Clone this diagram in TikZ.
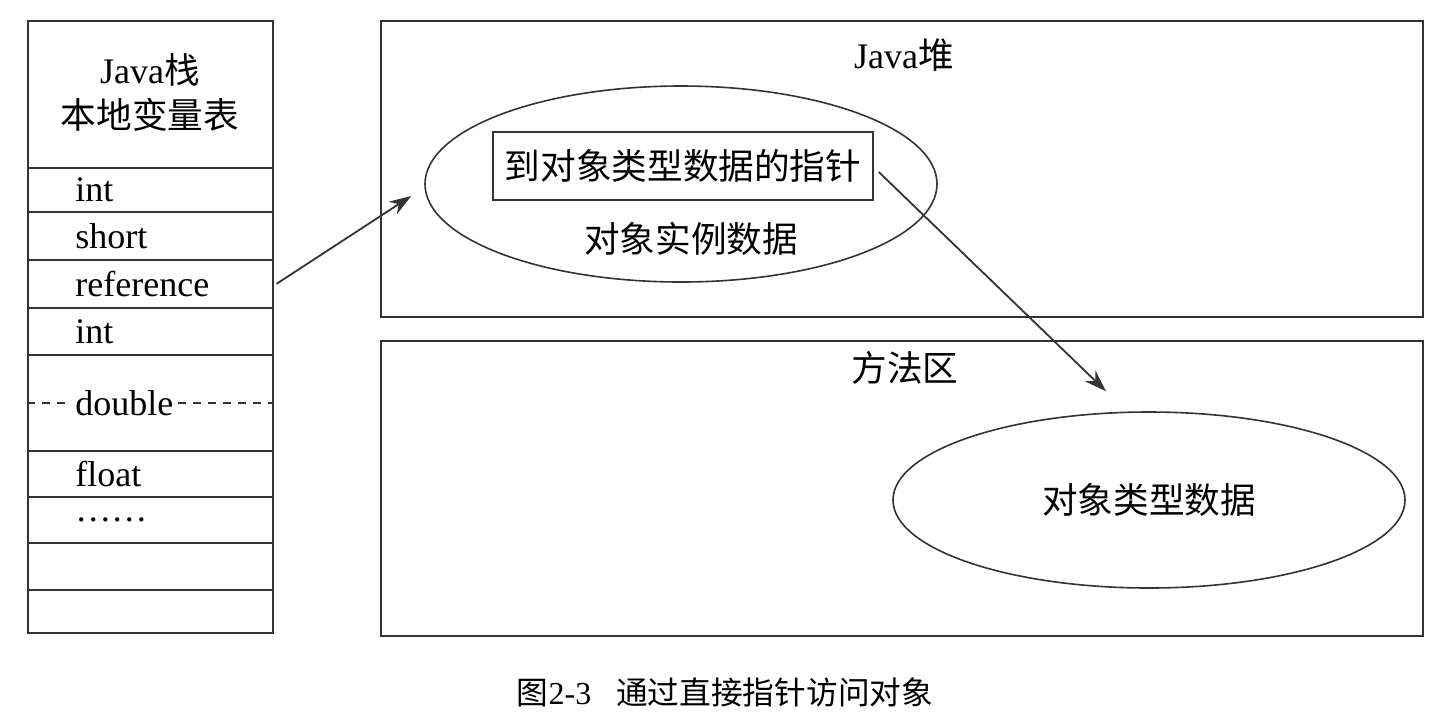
\documentclass[tikz,border=0pt]{standalone}
\usepackage{fontspec}
\setmainfont{Liberation Serif}
\newfontfamily\cjk[Scale=0.99]{Noto Sans CJK SC}
\usetikzlibrary{arrows.meta, shapes.geometric}
\definecolor{lineGray}{HTML}{333333}
\tikzset{
    cell/.style={draw=lineGray, line width=0.8pt, minimum width=122.5pt, anchor=north west, inner sep=0pt},
    celltext/.style={anchor=west, inner sep=0pt},
    area/.style={draw=lineGray, line width=0.8pt, minimum width=521pt, anchor=north west, inner sep=0pt},
    oval/.style={draw=lineGray, line width=0.8pt, ellipse, inner sep=0pt},
    ptrarrow/.style={-{Stealth[length=11pt, width=7.5pt]}, line width=0.9pt, draw=lineGray}
}

\begin{document}
\begin{tikzpicture}[x=0.5pt, y=-0.5pt, font=\fontsize{18}{22.5}\selectfont]
    \useasboundingbox (0, 0) rectangle (1431, 720);

    \node[cell, minimum height=73.5pt] (head) at (27, 20) {};
    \node[align=center] (headtext) at (150, 92) {Java{\cjk 栈}\\{\cjk 本地变量表}};
    \foreach \i/\top/\h/\txt in {1/167/22pt/int, 2/211/24pt/short, 3/259/24pt/reference,
            4/307/23.5pt/int, 5/354/48pt/double, 6/450/23pt/float,
            7/496/23pt/……, 8/542/23.5pt/, 9/589/21.5pt/} {
        \node[cell, minimum height=\h] (row\i) at (27, \top) {};
        \node[celltext] (txt\i) at ([xshift=24pt]row\i.west) {\txt};
    }
    \draw[lineGray, line width=0.8pt, dash pattern=on 4pt off 3.5pt]
        (row5.west) -- ([xshift=-2pt]txt5.west)
        ([xshift=2pt]txt5.east) -- (row5.east);

    \node[area, minimum height=148pt] (heap) at (380, 20) {};
    \node (heapname) at (904, 55) {Java{\cjk 堆}};
    \node[oval, minimum width=256pt, minimum height=98pt] (obj) at (681, 184) {};
    \node[draw=lineGray, line width=0.8pt, minimum width=190pt, minimum height=34pt, inner sep=0pt]
        (ptr) at (683, 166) {\cjk 到对象类型数据的指针};
    \node (objdata) at (691, 239) {\cjk 对象实例数据};

    \node[area, minimum height=147.5pt] (method) at (380, 340) {};
    \node (methodname) at (905, 368) {\cjk 方法区};
    \node[oval, minimum width=256pt, minimum height=88pt] (klass) at (1149, 500) {\cjk 对象类型数据};

    \draw[ptrarrow] ([xshift=1.5pt]row3.east) -- ([shift={(-6.5pt,-6pt)}]obj.west);
    \draw[ptrarrow] ([shift={(2.5pt,-3pt)}]ptr.east) -- ([shift={(-21.5pt,10pt)}]klass.north);

    \node[font=\fontsize{16}{18}\selectfont] (caption) at (725, 692)
        {{\cjk 图}2-3\hspace{12.5pt}{\cjk 通过直接指针访问对象}};
\end{tikzpicture}
\end{document}
